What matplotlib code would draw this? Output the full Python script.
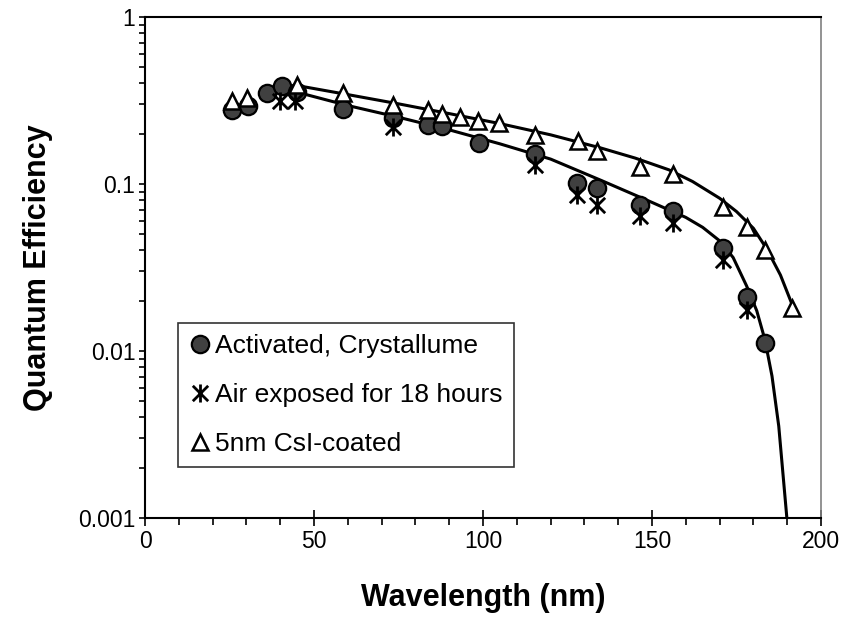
import matplotlib
matplotlib.use("Agg")
import matplotlib.pyplot as plt
from matplotlib.path import Path
from matplotlib.ticker import LogLocator, FixedLocator, NullFormatter, FuncFormatter

plt.rcParams['font.family'] = ['Liberation Sans', 'DejaVu Sans']

# Activated, Crystallume
act_x = [25.6, 30.6, 36.0, 40.4, 44.9, 58.5, 73.5, 83.6, 87.8, 98.8, 115.4, 127.9, 133.6, 146.4, 156.3, 171.0, 178.1, 183.4]
act_y = [0.279, 0.292, 0.353, 0.384, 0.358, 0.281, 0.248, 0.226, 0.221, 0.177, 0.152, 0.101, 0.0946, 0.0752, 0.0686, 0.0416, 0.0211, 0.0112]

# Air exposed for 18 hours
air_x = [39.9, 44.4, 73.5, 115.4, 127.9, 133.6, 146.4, 156.3, 171.0, 178.1]
air_y = [0.312, 0.312, 0.220, 0.130, 0.0863, 0.0752, 0.064, 0.0584, 0.0352, 0.0177]

# 5nm CsI-coated
csi_x = [25.6, 30.3, 44.9, 58.5, 73.5, 83.6, 87.8, 93.2, 98.6, 104.7, 115.4, 128.2, 133.6, 146.4, 156.3, 171.0, 178.1, 183.4, 191.4]
csi_y = [0.312, 0.327, 0.393, 0.353, 0.298, 0.276, 0.264, 0.252, 0.237, 0.232, 0.197, 0.180, 0.157, 0.127, 0.114, 0.0731, 0.0555, 0.0404, 0.0182]

# trend curves
fit_low_x = [44.9, 60, 75, 90, 105, 120, 135, 150, 160, 165, 170, 174, 178, 181, 183.4, 185.5, 187.5, 189.9]
fit_low_y = [0.355, 0.295, 0.251, 0.211, 0.174, 0.141, 0.105, 0.0776, 0.0631, 0.0550, 0.0457, 0.0363,
             0.0245, 0.0174, 0.0117, 0.00708, 0.00355, 0.001]
fit_up_x = [44.9, 60, 75, 90, 105, 120, 135, 145, 155, 162, 170, 175, 180, 184, 188, 191.4]
fit_up_y = [0.389, 0.343, 0.302, 0.264, 0.230, 0.197, 0.164, 0.143, 0.1216, 0.1035, 0.0822, 0.0684, 0.0543,
            0.0407, 0.0285, 0.0191]

labels = ["Activated, Crystallume", "Air exposed for 18 hours", "5nm CsI-coated"]

star = Path([(0, -1), (0, 1), (-0.85, -0.85), (0.85, 0.85), (-0.85, 0.85), (0.85, -0.85)],
            [Path.MOVETO, Path.LINETO, Path.MOVETO, Path.LINETO, Path.MOVETO, Path.LINETO])

fig = plt.figure(figsize=(8.48, 6.29), dpi=100)
ax = fig.add_axes([145/848, 1-518/629, (821-145)/848, (518-17)/629])

ax.plot(fit_low_x, fit_low_y, color='black', lw=2.2, zorder=2)
ax.plot(fit_up_x, fit_up_y, color='black', lw=2.2, zorder=2)

ax.plot(act_x, act_y, ls='none', marker='o', ms=12.5, mfc='#404040', mec='black', mew=1.6, zorder=3, label=labels[0])
ax.plot(air_x, air_y, ls='none', marker=star, ms=13, mec='black', mew=2.0, zorder=4, label=labels[1])
ax.plot(csi_x, csi_y, ls='none', marker='^', ms=11, mfc='white', mec='black', mew=1.8, zorder=5, label=labels[2])

ax.set_yscale('log')
ax.set_xlim(0, 200)
ax.set_ylim(0.001, 1)

ax.set_xticks([0, 50, 100, 150, 200])
ax.xaxis.set_minor_locator(FixedLocator([v for v in range(10, 200, 10) if v % 50 != 0]))
ax.tick_params(axis='x', which='major', direction='inout', length=12, width=1.2, labelsize=16.5, pad=3)
ax.tick_params(axis='x', which='minor', direction='out', length=5, width=1.2)

ax.yaxis.set_major_locator(FixedLocator([0.001, 0.01, 0.1, 1]))
ax.yaxis.set_major_formatter(FuncFormatter(lambda v, p: {0.001: '0.001', 0.01: '0.01', 0.1: '0.1', 1: '1'}.get(round(v, 4), '')))
ax.yaxis.set_minor_locator(LogLocator(base=10, subs=range(2, 10)))
ax.yaxis.set_minor_formatter(NullFormatter())
ax.tick_params(axis='y', which='both', direction='out', length=4, width=1.2, labelsize=16.5, pad=3)

for s in ['left', 'bottom', 'top']:
    ax.spines[s].set_linewidth(1.5)
    ax.spines[s].set_color('black')
ax.spines['right'].set_linewidth(1.2)
ax.spines['right'].set_color('#808080')

ax.set_xlabel('Wavelength (nm)', fontsize=22, fontweight='bold', labelpad=21)
ax.set_ylabel('Quantum Efficiency', fontsize=22, fontweight='bold', labelpad=18)

leg = ax.legend(loc='upper left', bbox_to_anchor=((178-145)/676, (518-323)/501), frameon=True, fancybox=False,
                edgecolor='black', fontsize=19, handlelength=0.85, handletextpad=0.15, borderpad=0.42,
                labelspacing=0.95, borderaxespad=0)
leg.get_frame().set_linewidth(1.2)

fig.savefig('out.png', dpi=100)
